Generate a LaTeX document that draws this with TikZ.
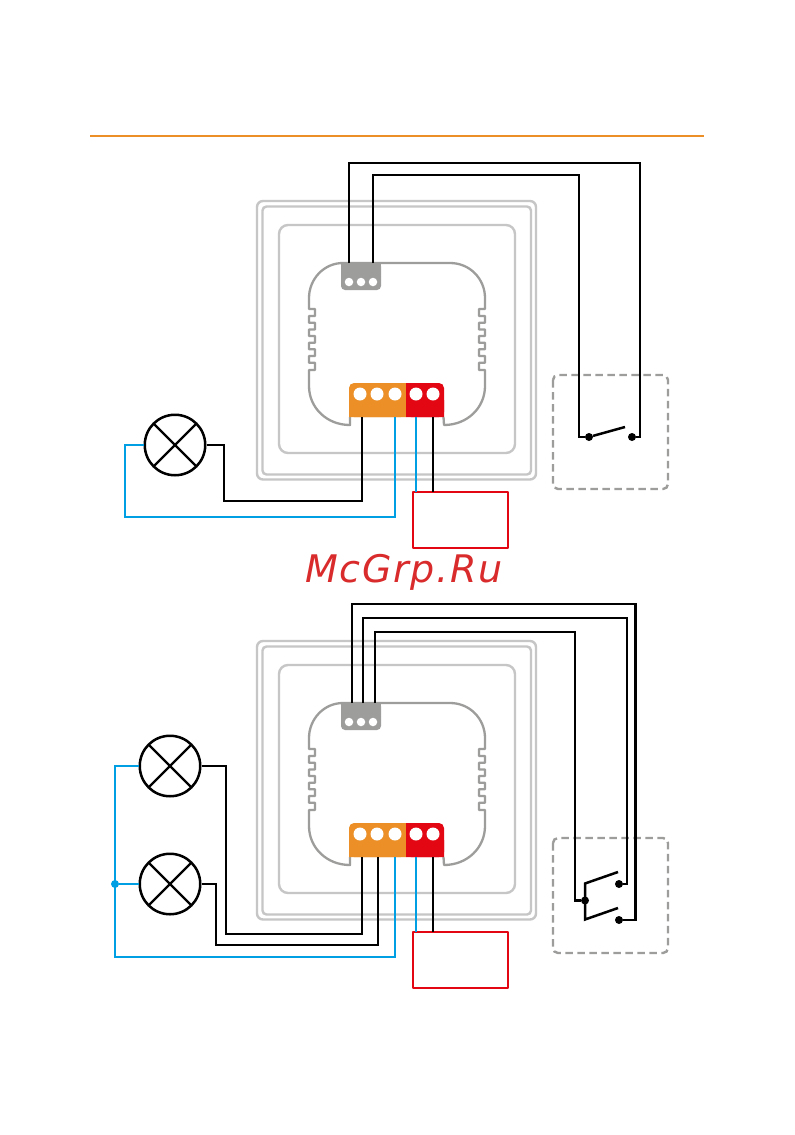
\documentclass[tikz,border=0pt]{standalone}
\usepackage{fontspec}
\setmainfont{DejaVu Sans}
\usetikzlibrary{calc}
\definecolor{wireblue}{HTML}{009FE3}
\definecolor{termorange}{HTML}{EB8F26}
\definecolor{termred}{HTML}{E30613}
\definecolor{termgray}{HTML}{9D9D9C}
\definecolor{framegray}{HTML}{C6C6C6}
\definecolor{markred}{HTML}{D92B2B}
\tikzset{
  frameline/.style={draw=framegray,line width=2.4pt,rounded corners=6pt},
  bodyline/.style={draw=termgray,line width=2.3pt},
  blk/.style={draw=black,line width=2.5pt,line join=miter},
  blkb/.style={draw=black,line width=2.8pt,line join=miter},
  blu/.style={draw=wireblue,line width=2.2pt,line join=miter},
  blub/.style={draw=wireblue,line width=2.6pt,line join=miter},
  hole/.style={fill=white,draw=none,circle},
  lamp/.style={circle,draw=black,line width=2.5pt,minimum size=60.5pt,inner sep=0pt,
    path picture={\draw[black,line width=2.3pt]
      (path picture bounding box.north west)++(9pt,-9pt) -- ($(path picture bounding box.south east)+(-9pt,9pt)$)
      ($(path picture bounding box.north east)+(-9pt,-9pt)$) -- ($(path picture bounding box.south west)+(9pt,9pt)$);}},
  dot/.style={circle,fill=black,draw=none,minimum size=8pt,inner sep=0pt},
  bluedot/.style={circle,fill=wireblue,draw=none,minimum size=8pt,inner sep=0pt},
  swbox/.style={draw=termgray,line width=2.4pt,dash pattern=on 7.5pt off 4.5pt,rounded corners=5pt},
  redbox/.style={draw=termred,line width=2.5pt,line join=round},
  device/.pic={
    \draw[frameline] (257,201) rectangle (536,479.5);
    \draw[frameline,rounded corners=4pt] (262.5,206.5) rectangle (531,474.5);
    \draw[frameline,rounded corners=9pt] (279,225) rectangle (515,453);
    \draw[bodyline,line join=round]
      (350,417) -- (350,425) .. controls (327,425) and (309,408) .. (309,386)
      -- (309,370) -- (315,370) -- (315,362.7) -- (309,362.7) -- (309,356) -- (315,356) -- (315,349.3)
      -- (309,349.3) -- (309,342.7) -- (315,342.7) -- (315,336) -- (309,336) -- (309,329.5) -- (315,329.5)
      -- (315,322.7) -- (309,322.7) -- (309,316) -- (315,316) -- (315,309) -- (309,309)
      -- (309,298) .. controls (309,279) and (324,263) .. (343,263)
      -- (450,263) .. controls (470,263) and (485,279) .. (485,298)
      -- (485,309) -- (479,309) -- (479,316) -- (485,316) -- (485,322.7) -- (479,322.7) -- (479,329.5)
      -- (485,329.5) -- (485,336) -- (479,336) -- (479,342.7) -- (485,342.7) -- (485,349.3) -- (479,349.3)
      -- (479,356) -- (485,356) -- (485,362.7) -- (479,362.7) -- (479,370) -- (485,370)
      -- (485,386) .. controls (485,408) and (467,425) .. (444,425) -- (443.5,417);
    \fill[termgray,rounded corners=4pt] (341,262.5) -- (381,262.5) -- (381,290) -- (341,290) -- cycle;
    \fill[termgray] (341,262.5) rectangle (381,270);
    \fill[termorange,rounded corners=5pt] (349,417) -- (349,383) -- (406,383) -- (406,417) -- cycle;
    \fill[termorange] (349,400) rectangle (406,417) (395,383) rectangle (406,400);
    \fill[termred,rounded corners=5pt] (406,417) -- (406,383) -- (444,383) -- (444,417) -- cycle;
    \fill[termred] (406,383) rectangle (420,417) (406,400) rectangle (444,417);
    \foreach \hx in {349,361,373} \node[hole,minimum size=8.5pt,inner sep=0pt] at (\hx,282) {};
    \foreach \hx in {360,377,395,416,433} \node[hole,minimum size=13pt,inner sep=0pt] at (\hx,394) {};
    \coordinate (-ga) at (349,263);
    \coordinate (-gb) at (373,263);
    \coordinate (-g1) at (352,263);
    \coordinate (-g2) at (363,263);
    \coordinate (-g3) at (375,263);
    \coordinate (-o1) at (362,417);
    \coordinate (-o2) at (378,417);
    \coordinate (-o3) at (395,417);
    \coordinate (-r1) at (416,417);
    \coordinate (-r2) at (433,417);
  }
}
\begin{document}
\begin{tikzpicture}[x=1pt,y=-1pt]
\useasboundingbox (0,0) rectangle (795,1135);
\fill[white] (0,0) rectangle (795,1135);
\draw[termorange,line width=2pt] (90,136) coordinate (rulea) -- (704,136) coordinate (ruleb);

% upper diagram
\pic (da) at (0,0) {device};
\pic (db) at (0,440) {device};

\node[lamp] (l1) at (175,445) {};
\draw[swbox] (553,375) rectangle (668,489);
\node[dot] (s1a) at (589,437) {};
\node[dot] (s1b) at (632,437) {};
\coordinate (s1t) at (625,427);
\draw[blk] (s1a) -- (s1t);
\draw[redbox] (413,492) rectangle (508,548);
\coordinate (p1a) at (416,492);
\coordinate (p1b) at (433,492);

\draw[blk] (da-ga) -- (349,163) -- (640,163) -- (640,437) -- (s1b);
\draw[blk] (da-gb) -- (373,175) -- (579,175) -- (579,437) -- (s1a);
\draw[blk] (l1.east) -- (224,445) -- (224,501) -- (362,501) -- (da-o1);
\draw[blu] (l1.west) -- (125,445) -- (125,517) -- (395,517) -- (da-o3);
\draw[blu] (da-r1) -- (p1a);
\draw[blkb] (da-r2) -- (p1b);

\node[text=markred,font=\fontsize{38}{38}\selectfont\itshape,inner sep=0pt,anchor=base] (mark) at (404,582) {\addfontfeature{LetterSpace=4.6}McGrp.Ru};

% lower diagram
\node[lamp] (l2) at (170,766) {};
\node[lamp] (l3) at (170,884) {};
\node[bluedot] (jn) at (115,884) {};
\draw[swbox] (553,838) rectangle (668,953);
\node[dot] (s2c) at (585,900.5) {};
\node[dot] (s2a) at (619,884) {};
\node[dot] (s2b) at (619,920) {};
\coordinate (s2u) at (585,883.5);
\coordinate (s2l) at (585,919.5);
\coordinate (s2ut) at (618,872);
\coordinate (s2lt) at (618,908);
\draw[blk] (s2ut) -- (s2u) -- (s2l) -- (s2lt);
\draw[redbox] (413,932) rectangle (508,988);
\coordinate (p2a) at (416,932);
\coordinate (p2b) at (433,932);

\draw[blkb] (db-g1) -- (352,604) -- (635.5,604) -- (635.5,920) -- (s2b);
\draw[blk] (db-g2) -- (363,618) -- (627,618) -- (627,884) -- (s2a);
\draw[blkb] (db-g3) -- (375,632) -- (575,632) -- (575,900.5) -- (s2c);
\draw[blk] (l2.east) -- (226,766) -- (226,934) -- (362,934) -- (db-o1);
\draw[blkb] (l3.east) -- (216,884) -- (216,945) -- (378,945) -- (db-o2);
\draw[blub] (l2.west) -- (115,766) -- (115,957) -- (395,957) -- (db-o3);
\draw[blu] (l3.west) -- (jn);
\draw[blu] (db-r1) -- (p2a);
\draw[blkb] (db-r2) -- (p2b);
\end{tikzpicture}
\end{document}
